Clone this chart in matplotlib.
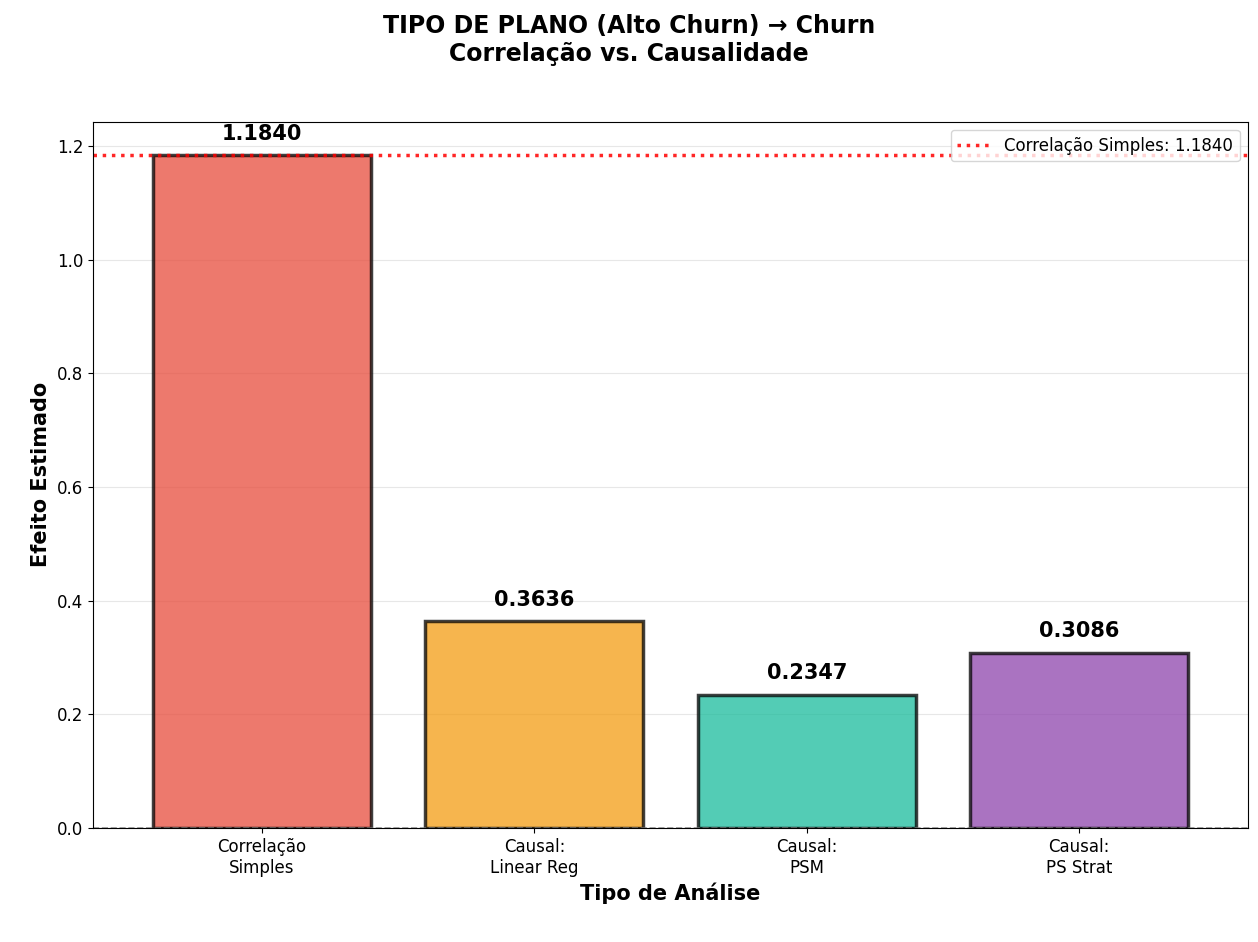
import numpy as np
import matplotlib
matplotlib.use('Agg')
import matplotlib.pyplot as plt

labels = ['Correlação\nSimples', 'Causal:\nLinear Reg', 'Causal:\nPSM', 'Causal:\nPS Strat']
values = [1.1840, 0.3636, 0.2347, 0.3086]
colors = ['#e74c3c', '#f39c12', '#1abc9c', '#8e44ad']
corr_simple = 1.1840

fig = plt.figure(figsize=(12.58, 9.42), dpi=100)
ax = fig.add_axes([0.074, 0.121, 0.918, 0.750])

x = np.arange(len(labels))
bars = ax.bar(x, values, color=colors, alpha=0.75, edgecolor='black', linewidth=2.5, width=0.8, zorder=2)
for b, v in zip(bars, values):
    ax.text(b.get_x() + b.get_width() / 2, v + 0.02, f'{v:.4f}', ha='center', va='bottom',
            fontsize=15, fontweight='bold')

ax.axhline(corr_simple, color='red', linestyle=':', linewidth=2.5, alpha=0.85,
           label=f'Correlação Simples: {corr_simple:.4f}')
ax.axhline(0, color='gray', linestyle='--', linewidth=1.2, alpha=0.8)

ax.set_xticks(x)
ax.set_xticklabels(labels, fontsize=12)
ax.tick_params(axis='y', labelsize=12)
ax.set_xlim(-0.62, 3.62)
ax.set_ylim(0, 1.243)
ax.yaxis.grid(True, alpha=0.3)
ax.set_axisbelow(True)
ax.set_xlabel('Tipo de Análise', fontsize=15, fontweight='bold')
ax.set_ylabel('Efeito Estimado', fontsize=15, fontweight='bold')
ax.legend(loc='upper right', fontsize=12)
fig.suptitle('TIPO DE PLANO (Alto Churn) → Churn\nCorrelação vs. Causalidade',
             fontsize=17, fontweight='bold', y=0.985)

fig.savefig('out.png', dpi=100)
